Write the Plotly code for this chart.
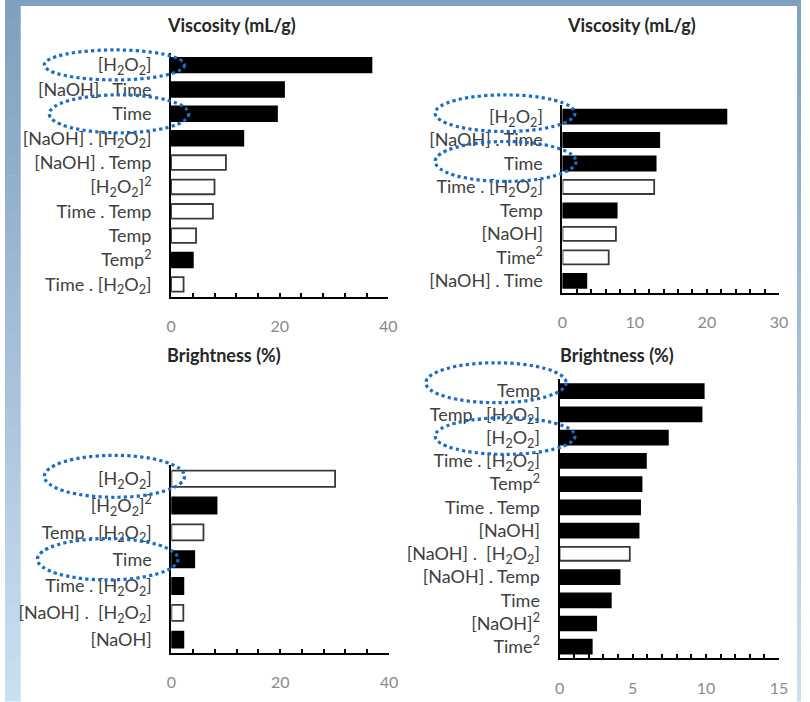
import plotly.graph_objects as go

W, H = 810, 702

# ---------------- data ----------------
H2O2 = "[H<sub>2</sub>O<sub>2</sub>]"

tl_labels = [H2O2, "[NaOH] . Time", "Time", "[NaOH] . " + H2O2, "[NaOH] . Temp",
             H2O2 + "<sup>2</sup>", "Time . Temp", "Temp", "Temp<sup>2</sup>", "Time . " + H2O2]
tl_values = [36.9, 20.8, 19.5, 13.3, 10.1, 8.0, 7.7, 4.6, 4.0, 2.3]
tl_sign = ["+", "+", "+", "+", "-", "-", "-", "-", "+", "-"]

tr_labels = [H2O2, "[NaOH] . Time", "Time", "Time . " + H2O2, "Temp", "[NaOH]",
             "Time<sup>2</sup>", "[NaOH] . Time"]
tr_values = [22.7, 13.4, 12.9, 12.7, 7.5, 7.4, 6.4, 3.3]
tr_sign = ["+", "+", "+", "-", "+", "-", "-", "+"]

bl_labels = [H2O2, H2O2 + "<sup>2</sup>", "Temp . " + H2O2, "Time", "Time . " + H2O2,
             "[NaOH] .  " + H2O2, "[NaOH]"]
bl_values = [30.1, 8.3, 5.9, 4.2, 2.2, 2.2, 2.2]
bl_sign = ["-", "+", "-", "+", "+", "-", "+"]

br_labels = ["Temp", "Temp . " + H2O2, H2O2, "Time . " + H2O2, "Temp<sup>2</sup>", "Time . Temp",
             "[NaOH]", "[NaOH] .  " + H2O2, "[NaOH] . Temp", "Time", "[NaOH]<sup>2</sup>",
             "Time<sup>2</sup>"]
br_values = [9.85, 9.7, 7.4, 5.9, 5.6, 5.5, 5.4, 4.8, 4.1, 3.5, 2.5, 2.2]
br_sign = ["+", "+", "+", "+", "+", "+", "+", "-", "+", "+", "+", "+"]

titles = ["Viscosity (mL/g)", "Viscosity (mL/g)", "Brightness (%)", "Brightness (%)"]
x_max = [40, 30, 40, 15]
x_major = [20, 10, 20, 5]
x_minor = [4, 2, 4, 1]

panels = [
    (tl_labels, tl_values, tl_sign),
    (tr_labels, tr_values, tr_sign),
    (bl_labels, bl_values, bl_sign),
    (br_labels, br_values, br_sign),
]

# ---------------- layout geometry (pixels) ----------------
# (x_left, x_right, y_top, y_bottom) of each plot area
boxes = [
    (169, 390, 53, 297),
    (567.3, 787.7, 105, 293),
    (169.3, 390.7, 466, 654),
    (564.3, 787.7, 380, 659.3),
]
title_pos = [(230, 25), (638, 25), (223, 356), (623, 356)]

def px(x):
    return x / W

def py(y):
    return 1 - y / H

FONT = "Lato"
fig = go.Figure()
layout = dict(
    width=W, height=H, margin=dict(l=0, r=0, t=0, b=0),
    paper_bgcolor="white", plot_bgcolor="rgba(0,0,0,0)",
    showlegend=False, font=dict(family=FONT),
)

for i, ((labels, values, sign), box) in enumerate(zip(panels, boxes)):
    n = len(labels)
    idx = list(range(n))
    k = "" if i == 0 else str(i + 1)
    fill = ["black" if s == "+" else "white" for s in sign]
    line_col = ["black" if s == "+" else "#3a3a3a" for s in sign]
    fig.add_trace(go.Bar(
        x=values, y=idx, orientation="h", width=0.6,
        marker=dict(color=fill, line=dict(color=line_col, width=1.8)),
        xaxis="x" + k, yaxis="y" + k, hoverinfo="skip",
    ))
    x0, x1, y0, y1 = box
    layout["xaxis" + k] = dict(
        domain=[px(x0), px(x1)], anchor="y" + k, range=[0, x_max[i]],
        tickmode="linear", tick0=0, dtick=x_major[i],
        showgrid=False, zeroline=False,
        showline=True, linecolor="black", linewidth=2,
        ticks="inside", ticklen=4, tickwidth=1.5, tickcolor="black",
        minor=dict(dtick=x_minor[i], ticks="inside", ticklen=4, tickwidth=1.5,
                   tickcolor="black", showgrid=False),
        tickfont=dict(family=FONT, size=16, color="#8a8a8a"),
        ticklabelstandoff=14, fixedrange=True,
    )
    layout["yaxis" + k] = dict(
        domain=[py(y1), py(y0)], anchor="x" + k, range=[n - 0.5, -0.5],
        tickmode="array", tickvals=idx, ticktext=labels,
        showgrid=False, zeroline=False,
        showline=True, linecolor="black", linewidth=2, ticks="",
        tickfont=dict(family=FONT, size=18, color="#404040"),
        ticklabelstandoff=14, fixedrange=True,
    )

annotations = []
for t, (tx, ty) in zip(titles, title_pos):
    annotations.append(dict(
        text="<b>" + t + "</b>", x=px(tx), y=py(ty), xref="paper", yref="paper",
        xanchor="center", yanchor="middle", showarrow=False,
        font=dict(family=FONT, size=18, color="#262626"),
    ))
layout["annotations"] = annotations

# ---------------- background frame (blue gradient) & ellipses ----------------
shapes = []
top_c = (127, 160, 191)
bot_c = (202, 222, 241)
steps = 36
for s in range(steps):
    f = s / (steps - 1)
    c = tuple(int(round(top_c[j] + (bot_c[j] - top_c[j]) * f)) for j in range(3))
    col = "rgb(%d,%d,%d)" % c
    ya = s * H / steps
    yb = (s + 1) * H / steps + 0.5
    for xa, xb in [(0, 16), (806, 810)]:
        shapes.append(dict(type="rect", xref="paper", yref="paper",
                           x0=px(xa), x1=px(xb), y0=py(yb), y1=py(ya),
                           fillcolor=col, line=dict(width=0), layer="below"))
shapes.append(dict(type="rect", xref="paper", yref="paper",
                   x0=0, x1=1, y0=py(6), y1=1,
                   fillcolor="rgb(127,160,191)", line=dict(width=0), layer="below"))

ellipses = [
    (40, 182.7, 50, 80), (45, 187, 95, 133),
    (437.7, 580, 95, 131.7), (437.7, 581, 141.7, 181.7),
    (40, 182.7, 456, 498), (33, 176, 539.3, 580.7),
    (428.3, 571, 363.3, 403.3), (437.7, 580, 418.3, 455),
]
for (ex0, ex1, ey0, ey1) in ellipses:
    shapes.append(dict(type="circle", xref="paper", yref="paper",
                       x0=px(ex0), x1=px(ex1), y0=py(ey1), y1=py(ey0),
                       line=dict(color="#1a6cc4", width=3.2, dash="dot"),
                       layer="above"))
layout["shapes"] = shapes

fig.update_layout(**layout)
fig.write_html(
    "out.html",
    config={"displayModeBar": False},
    post_script="document.body.style.margin='0px';document.body.style.overflow='hidden';",
)
